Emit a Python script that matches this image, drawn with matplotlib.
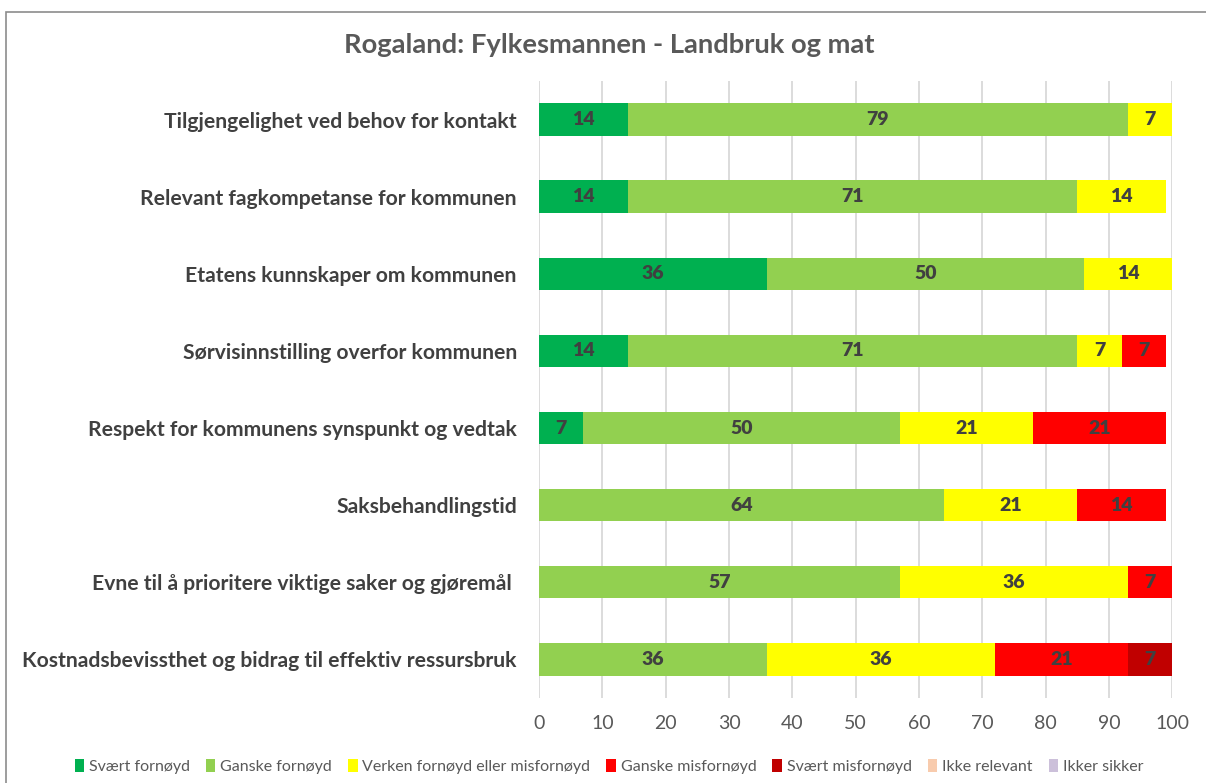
import numpy as np
import matplotlib
matplotlib.use('Agg')
import matplotlib.pyplot as plt
from matplotlib.patches import Rectangle, Patch

plt.rcParams['font.family'] = ['Lato', 'DejaVu Sans']

categories = [
    'Tilgjengelighet ved behov for kontakt',
    'Relevant fagkompetanse for kommunen',
    'Etatens kunnskaper om kommunen',
    'Sørvisinnstilling overfor kommunen',
    'Respekt for kommunens synspunkt og vedtak',
    'Saksbehandlingstid',
    'Evne til å prioritere viktige saker og gjøremål ',
    'Kostnadsbevissthet og bidrag til effektiv ressursbruk',
]

series_names = ['Svært fornøyd', 'Ganske fornøyd', 'Verken fornøyd eller misfornøyd',
                'Ganske misfornøyd', 'Svært misfornøyd', 'Ikke relevant', 'Ikker sikker']

svaert_fornoyd = [14, 14, 36, 14, 7, 0, 0, 0]
ganske_fornoyd = [79, 71, 50, 71, 50, 64, 57, 36]
verken = [7, 14, 14, 7, 21, 21, 36, 36]
ganske_misfornoyd = [0, 0, 0, 7, 21, 14, 7, 21]
svaert_misfornoyd = [0, 0, 0, 0, 0, 0, 0, 7]
ikke_relevant = [0, 0, 0, 0, 0, 0, 0, 0]
ikke_sikker = [0, 0, 0, 0, 0, 0, 0, 0]

colors = ['#00B050', '#92D050', '#FFFF00', '#FF0000', '#C00000', '#F8CBAD', '#CCC0DA']

data = [svaert_fornoyd, ganske_fornoyd, verken, ganske_misfornoyd,
        svaert_misfornoyd, ikke_relevant, ikke_sikker]

fig = plt.figure(figsize=(12.06, 7.83), dpi=100)
ax = fig.add_axes([0.447, 0.1086, 0.525, 0.788])

# light border round the chart area
fig.patches.append(Rectangle((6 / 1206, -0.1), 1.2, 1 - 12 / 783 + 0.1,
                             transform=fig.transFigure, fill=False,
                             edgecolor='#8C8C8C', linewidth=1.2))

y = np.arange(len(categories))
left = np.zeros(len(categories))
for name, vals, c in zip(series_names, data, colors):
    vals = np.array(vals, dtype=float)
    bars = ax.barh(y, vals, left=left, height=0.42, color=c, label=name)
    for b, v in zip(bars, vals):
        if v > 0:
            ax.text(b.get_x() + b.get_width() / 2, b.get_y() + b.get_height() / 2,
                    '%d' % v, ha='center', va='center', fontsize=14,
                    fontweight='heavy', color='#404040')
    left += vals

ax.set_xlim(0, 100)
ax.set_ylim(len(categories) - 0.5, -0.5)
ax.set_xticks(np.arange(0, 101, 10))
ax.set_yticks(y)
ax.set_yticklabels(categories, fontsize=15.2, fontweight='bold', color='#404040')
ax.tick_params(axis='x', labelsize=14, colors='#595959', length=0, pad=12)
ax.tick_params(axis='y', length=0, pad=16)
ax.grid(axis='x', color='#D9D9D9', linewidth=1.3)
ax.set_axisbelow(True)
for s in ax.spines.values():
    s.set_visible(False)

fig.text(0.505, 0.943, 'Rogaland: Fylkesmannen - Landbruk og mat', ha='center', va='center',
         fontsize=19.7, fontweight='bold', color='#595959')

handles = [Patch(facecolor=c, label=n) for n, c in zip(series_names, colors)]
fig.legend(handles=handles, loc='center', bbox_to_anchor=(0.505, 0.021), ncol=7,
           frameon=False, fontsize=11.5, handlelength=0.6, handleheight=0.9,
           handletextpad=0.3, columnspacing=1.0, labelcolor='#595959')

fig.savefig('out.png', dpi=100)
